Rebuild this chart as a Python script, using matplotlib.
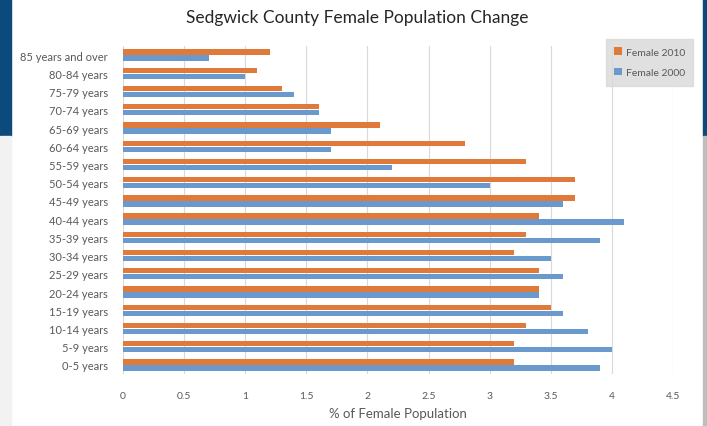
import numpy as np
import matplotlib
matplotlib.use("Agg")
import matplotlib.pyplot as plt
from matplotlib.patches import Rectangle

# data (bottom -> top, as drawn)
ages = ["0-5 years", "5-9 years", "10-14 years", "15-19 years", "20-24 years",
        "25-29 years", "30-34 years", "35-39 years", "40-44 years", "45-49 years",
        "50-54 years", "55-59 years", "60-64 years", "65-69 years", "70-74 years",
        "75-79 years", "80-84 years", "85 years and over"]
female_2010 = [3.2, 3.2, 3.3, 3.5, 3.4, 3.4, 3.2, 3.3, 3.4, 3.7,
               3.7, 3.3, 2.8, 2.1, 1.6, 1.3, 1.1, 1.2]
female_2000 = [3.9, 4.0, 3.8, 3.6, 3.4, 3.6, 3.5, 3.9, 4.1, 3.6,
               3.0, 2.2, 1.7, 1.7, 1.6, 1.4, 1.0, 0.7]
xticks = [0, 0.5, 1, 1.5, 2, 2.5, 3, 3.5, 4, 4.5]
xtick_labels = ["0", "0.5", "1", "1.5", "2", "2.5", "3", "3.5", "4", "4.5"]

orange = '#DF7A3B'
blue = '#6A99CE'
txt = '#595959'
plt.rcParams['font.family'] = ['Lato', 'DejaVu Sans']

fig = plt.figure(figsize=(7.07, 4.27), dpi=100)
ax = fig.add_axes([0.174, 1 - 375/427, 0.778, 328/427])

# background bits from the screenshot
fig.patches.append(Rectangle((0, 1 - 137/427), 11/707, 137/427, transform=fig.transFigure,
                             color='#0B4A7A', zorder=0))
fig.patches.append(Rectangle((0, 0), 11/707, 1 - 137/427, transform=fig.transFigure,
                             color='#F2F2F2', zorder=0))
fig.patches.append(Rectangle((703/707, 1 - 137/427), 4/707, 137/427, transform=fig.transFigure,
                             color='#0B4A7A', zorder=0))
fig.patches.append(Rectangle((703/707, 0), 4/707, 1 - 137/427, transform=fig.transFigure,
                             color='#BEBEBE', zorder=0))

y = np.arange(len(ages))
h = 0.29
ax.barh(y + h/2 + 0.02, female_2010, height=h, color=orange, label='Female 2010', zorder=3)
ax.barh(y - h/2 - 0.02, female_2000, height=h, color=blue, label='Female 2000', zorder=3)

ax.set_xlim(0, 4.5)
ax.set_ylim(-0.5, len(ages) - 0.5)
ax.set_xticks(xticks)
ax.set_xticklabels(xtick_labels)
ax.set_yticks(y)
ax.set_yticklabels(ages)
ax.tick_params(axis='both', length=0, colors=txt)
ax.tick_params(axis='x', pad=12, labelsize=7.5)
ax.tick_params(axis='y', pad=11, labelsize=8)
ax.grid(axis='x', color='#D9D9D9', linewidth=0.8, zorder=0)
for s in ax.spines.values():
    s.set_visible(False)

ax.set_xlabel('% of Female Population', fontsize=9.5, color=txt, labelpad=5)
fig.text(357/707, 1 - 18/427, 'Sedgwick County Female Population Change',
         ha='center', va='center', fontsize=12.5, color='#262626')

leg = ax.legend(loc='upper left', bbox_to_anchor=(606/707, 1 - 40/427),
                bbox_transform=fig.transFigure, fontsize=7.5, frameon=True,
                fancybox=False, handlelength=0.7, handleheight=0.7,
                handletextpad=0.4, labelspacing=1.1, borderpad=0.8,
                borderaxespad=0)
leg.get_frame().set_facecolor('#D9D9D9')
leg.get_frame().set_edgecolor('#D9D9D9')
for t in leg.get_texts():
    t.set_color(txt)

fig.savefig('out.png', dpi=100)
